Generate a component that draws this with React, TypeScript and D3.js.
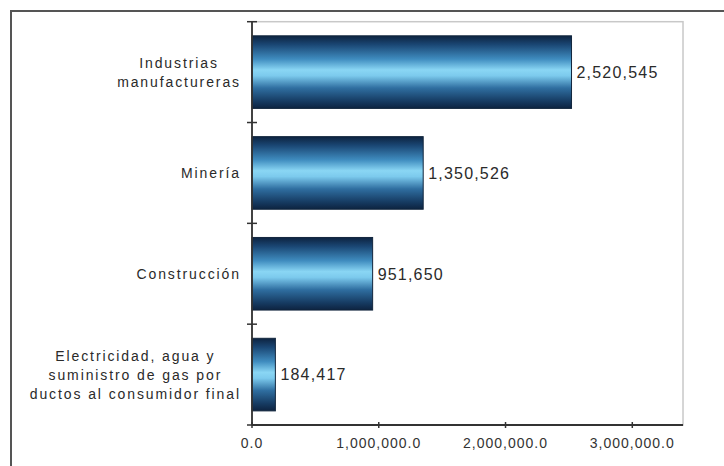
import React, { useEffect, useRef } from "react";
import * as d3 from "d3";

const categories: string[][] = [
  ["Industrias", "manufactureras"],
  ["Minería"],
  ["Construcción"],
  ["Electricidad, agua y", "suministro de gas por", "ductos al consumidor final"],
];
const values: number[] = [2520545, 1350526, 951650, 184417];
const xTicks: number[] = [0, 1000000, 2000000, 3000000];
const xMax = 3400000;

const W = 724;
const H = 466;
const FONT = "'Liberation Sans', Arial, sans-serif";

export default function App() {
  const ref = useRef<SVGSVGElement>(null);

  useEffect(() => {
    const svg = d3.select(ref.current);
    svg.selectAll("*").remove();

    const left = 252;
    const right = 683;
    const top = 21.7;
    const bottom = 425;

    const x = d3.scaleLinear().domain([0, xMax]).range([left, right]);
    const y = d3
      .scaleBand<number>()
      .domain(d3.range(categories.length))
      .range([top, bottom])
      .paddingInner(0.28)
      .paddingOuter(0.14);
    const band = (bottom - top) / categories.length;

    const defs = svg.append("defs");
    const grad = defs
      .append("linearGradient")
      .attr("id", "barGrad")
      .attr("x1", 0)
      .attr("y1", 0)
      .attr("x2", 0)
      .attr("y2", 1);
    const stops: [number, string][] = [
      [0, "#0d2340"],
      [0.12, "#1a4673"],
      [0.32, "#3f8cbf"],
      [0.47, "#8ad6f4"],
      [0.55, "#7ccaed"],
      [0.72, "#2f6ea0"],
      [0.9, "#163b62"],
      [1, "#0d2340"],
    ];
    stops.forEach(([o, c]) =>
      grad.append("stop").attr("offset", o).attr("stop-color", c)
    );

    // outer frame
    svg
      .append("rect")
      .attr("x", 11)
      .attr("y", 11)
      .attr("width", W + 20)
      .attr("height", H + 20)
      .attr("fill", "#ffffff")
      .attr("stroke", "#555555")
      .attr("stroke-width", 2);

    // plot area border
    svg
      .append("rect")
      .attr("x", left)
      .attr("y", top)
      .attr("width", right - left)
      .attr("height", bottom - top)
      .attr("fill", "none")
      .attr("stroke", "#c8c8c8")
      .attr("stroke-width", 1.5);

    // bars
    svg
      .selectAll("rect.bar")
      .data(values)
      .enter()
      .append("rect")
      .attr("class", "bar")
      .attr("x", x(0))
      .attr("y", (_d, i) => y(i) as number)
      .attr("width", (d) => x(d) - x(0))
      .attr("height", y.bandwidth())
      .attr("fill", "url(#barGrad)")
      .attr("stroke", "#12263d")
      .attr("stroke-width", 1);

    // value labels
    svg
      .selectAll("text.val")
      .data(values)
      .enter()
      .append("text")
      .attr("class", "val")
      .attr("x", (d) => x(d) + 5)
      .attr("y", (_d, i) => (y(i) as number) + y.bandwidth() / 2)
      .attr("dy", "0.36em")
      .attr("font-family", FONT)
      .attr("font-size", 16)
      .attr("letter-spacing", 1.2)
      .attr("fill", "#2a2a2a")
      .text((d) => d3.format(",")(d));

    // axes lines
    svg
      .append("line")
      .attr("x1", left)
      .attr("x2", left)
      .attr("y1", top)
      .attr("y2", bottom)
      .attr("stroke", "#333333")
      .attr("stroke-width", 1.8);
    svg
      .append("line")
      .attr("x1", left)
      .attr("x2", right)
      .attr("y1", bottom)
      .attr("y2", bottom)
      .attr("stroke", "#333333")
      .attr("stroke-width", 1.8);

    // y ticks (cross)
    d3.range(categories.length + 1).forEach((i) => {
      const yy = top + i * band;
      svg
        .append("line")
        .attr("x1", left - 5)
        .attr("x2", left + 5)
        .attr("y1", yy)
        .attr("y2", yy)
        .attr("stroke", "#333333")
        .attr("stroke-width", 1.5);
    });

    // x ticks
    xTicks.forEach((t) => {
      svg
        .append("line")
        .attr("x1", x(t))
        .attr("x2", x(t))
        .attr("y1", bottom - 3)
        .attr("y2", bottom + 3)
        .attr("stroke", "#333333")
        .attr("stroke-width", 1.5);
      svg
        .append("text")
        .attr("x", x(t))
        .attr("y", bottom + 23)
        .attr("text-anchor", "middle")
        .attr("font-family", FONT)
        .attr("font-size", 14)
        .attr("letter-spacing", 1)
        .attr("fill", "#333333")
        .text(d3.format(",.1f")(t));
    });

    // category labels
    const lineH = 19;
    const labelRight = 241;
    categories.forEach((lines, i) => {
      const cy = top + (i + 0.5) * band;
      const g = svg.append("g");
      const texts = lines.map((ln, j) =>
        g
          .append("text")
          .attr("y", cy + (j - (lines.length - 1) / 2) * lineH)
          .attr("dy", "0.36em")
          .attr("text-anchor", "middle")
          .attr("font-family", FONT)
          .attr("font-size", 14)
          .attr("letter-spacing", 1.9)
          .attr("fill", "#2a2a2a")
          .text(ln)
      );
      const maxW = d3.max(texts, (t) => (t.node() as SVGTextElement).getComputedTextLength()) || 0;
      texts.forEach((t) => t.attr("x", labelRight - maxW / 2));
    });
  }, []);

  return (
    <svg
      ref={ref}
      width={W}
      height={H}
      style={{ position: "absolute", left: 0, top: 0, background: "#fff" }}
    />
  );
}
